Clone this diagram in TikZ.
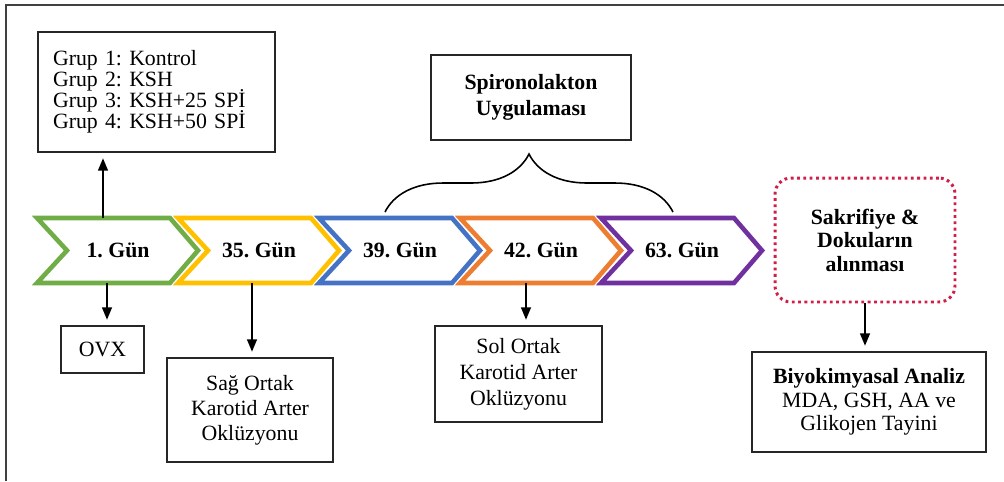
\documentclass[tikz,border=0pt]{standalone}
\usepackage{fontspec}
\setmainfont{Liberation Serif}
\usetikzlibrary{arrows.meta,decorations.pathreplacing}
\definecolor{chgreen}{HTML}{70AD47}
\definecolor{chyellow}{HTML}{FFC000}
\definecolor{chblue}{HTML}{4472C4}
\definecolor{chorange}{HTML}{ED7D31}
\definecolor{chpurple}{HTML}{7030A0}
\definecolor{dotred}{HTML}{D01E48}
\newcommand\grupfont{\fontsize{12.4}{11.9}\selectfont\lineskiplimit=-20pt\relax}
\frenchspacing

\begin{document}
\begin{tikzpicture}[x=0.02cm,y=-0.02cm,>={Triangle[length=7pt,width=5.5pt]},font=\fontsize{12.4}{14}\selectfont,
    box node/.style={draw=black!85,line width=1.1pt,align=center,inner sep=0pt},
    day node/.style={font=\fontsize{12.4}{14}\selectfont\bfseries},
    chevron/.style={line width=2.6pt,line join=miter,fill=white},
    arrow line/.style={->,line width=1.1pt,shorten >=3pt}]
    \useasboundingbox (0,0) rectangle (1004,481);
    \draw[line width=1.2pt,black!75] (6,481) -- (6,5) -- (1004,5);

    \foreach \c [count=\i] in {chgreen,chyellow,chblue,chorange,chpurple}{
        \pgfmathsetmacro\xo{37+141*(\i-1)}
        \draw[chevron,draw=\c] (\xo,218) -- (\xo+133,218) -- (\xo+161,250.5) -- (\xo+133,283) -- (\xo,283) -- (\xo+30,250.5) -- cycle;
    }

    \node[day node] (d1) at (118,250.5) {1. Gün};
    \node[day node] (d35) at (259,250.5) {35. Gün};
    \node[day node] (d39) at (400,250.5) {39. Gün};
    \node[day node] (d42) at (541,250.5) {42. Gün};
    \node[day node] (d63) at (682,250.5) {63. Gün};

    \node[box node,align=left,text width=4.14cm,inner xsep=0.3cm,minimum height=2.4cm,font=\grupfont] (grup) at (156.5,92) {Grup 1: Kontrol\\Grup 2: KSH\\Grup 3: KSH+25 SPİ\\Grup 4: KSH+50 SPİ};
    \node[box node,minimum width=1.66cm,minimum height=0.94cm] (ovx) at (102.5,349.5) {OVX};
    \node[box node,minimum width=3.32cm,minimum height=2.08cm,font=\fontsize{12.4}{14.2}\selectfont] (sag) at (250,410) {Sağ Ortak\\Karotid Arter\\Oklüzyonu};
    \node[box node,minimum width=3.34cm,minimum height=1.92cm,font=\fontsize{12.4}{14.8}\selectfont] (sol) at (518.5,374) {Sol Ortak\\Karotid Arter\\Oklüzyonu};
    \node[box node,minimum width=4cm,minimum height=1.7cm,font=\fontsize{12.4}{15}\selectfont\bfseries] (spiro) at (531,97.5) {Spironolakton\\Uygulaması};
    \node[box node,draw=dotred,line width=1.7pt,dash pattern=on 1.6pt off 2pt,rounded corners=0.32cm,minimum width=3.6cm,minimum height=2.48cm,font=\fontsize{12.4}{13.4}\selectfont\bfseries] (sakr) at (865,240) {Sakrifiye \&\\Dokuların\\alınması};
    \node[box node,minimum width=4.68cm,minimum height=2cm,font=\fontsize{12.4}{13.4}\selectfont] (biyo) at (869,402) {\textbf{Biyokimyasal Analiz}\\MDA, GSH, AA ve\\Glikojen Tayini};

    \coordinate (u1) at (103,218);
    \coordinate (l1) at (107,283);
    \coordinate (l35) at (252,283);
    \coordinate (l42) at (526,283);
    \coordinate (bl) at (385,212);
    \coordinate (br) at (673,212);

    \draw[arrow line] (u1) -- (u1 |- grup.south);
    \draw[arrow line] (l1) -- (l1 |- ovx.north);
    \draw[arrow line] (l35) -- (l35 |- sag.north);
    \draw[arrow line] (l42) -- (l42 |- sol.north);
    \draw[arrow line] (sakr.south) -- (sakr.south |- biyo.north);
    \draw[decorate,decoration={brace,amplitude=33pt},line width=0.9pt] (bl) -- (br);
\end{tikzpicture}
\end{document}
